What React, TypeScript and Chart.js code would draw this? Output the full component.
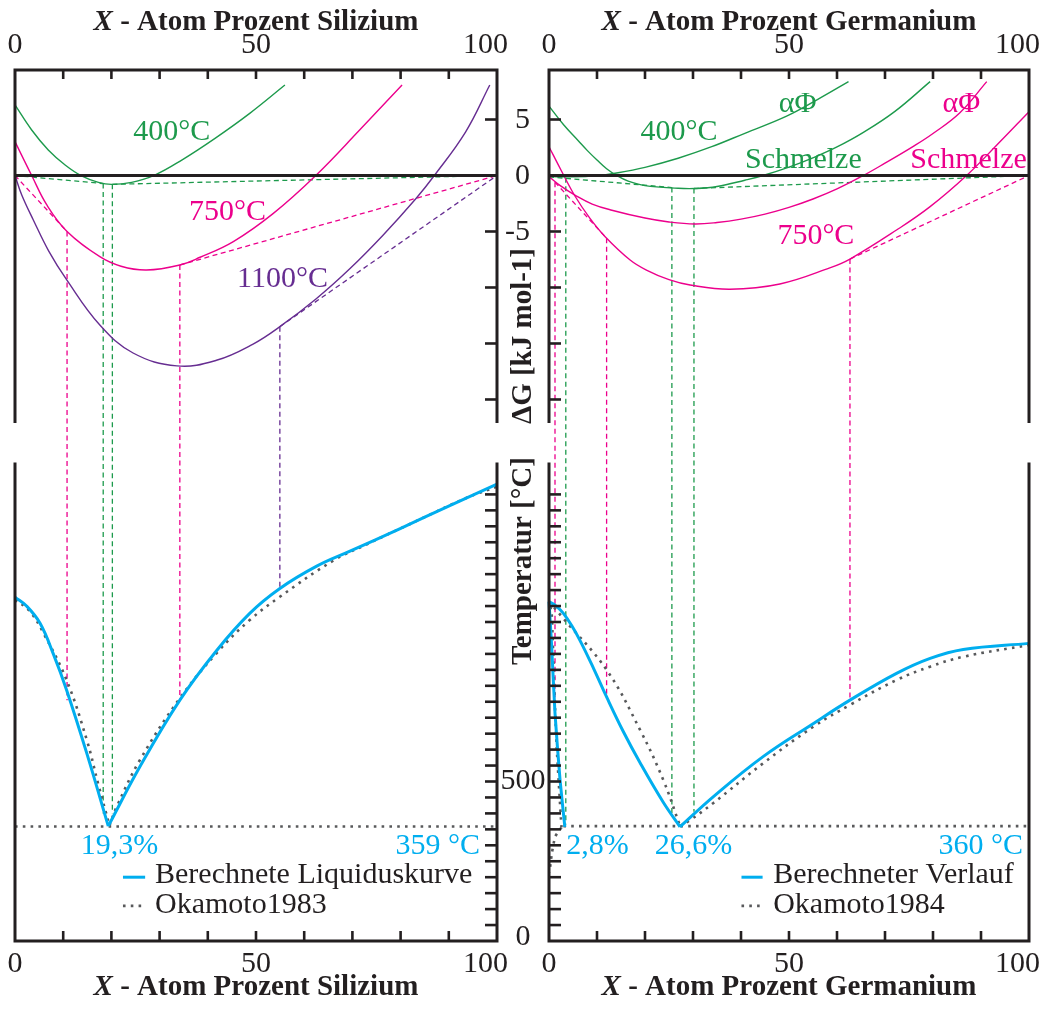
import React, { useEffect, useRef } from "react";
import { Chart, registerables } from "chart.js";

Chart.register(...registerables);

type Pt = [number, number];
type Tie = [number, number, number]; // [x %, ΔG kJ/mol, T °C]

// ---------------- axes ----------------
const X_TICKS = [10, 20, 30, 40, 50, 60, 70, 80, 90];
const X_TICK_LABELS: [number, string][] = [[0, "0"], [50, "50"], [100, "100"]];
const G_RANGE: Pt = [-22.1, 9.42];
const G_TICKS = [5, -5, -10, -15, -20];
const G_TICK_LABELS: [number, string][] = [[5, "5"], [0, "0"], [-5, "-5"]];
const T_RANGE: Pt = [0, 1500];
const T_TICKS = [50, 100, 150, 200, 250, 300, 350, 400, 450, 500, 550, 600, 650, 700, 750, 800, 850, 900, 950, 1000, 1050, 1100, 1150, 1200, 1250, 1300, 1350, 1400];
const T_TICK_LABELS: [number, string][] = [[500, "500"], [0, "0"]];

const X_TITLE_SI = " - Atom Prozent Silizium";
const X_TITLE_GE = " - Atom Prozent Germanium";
const G_TITLE = "ΔG [kJ mol-1]";
const T_TITLE = "Temperatur [°C]";

// ---------------- Au–Si : free energy curves ----------------
const SI_G_400: Pt[] = [[0, 6.3], [3.46, 4.06], [6.9, 2.28], [10.4, 0.94], [13.8, -0.03], [17.3, -0.61], [20.0, -0.79], [24.2, -0.61], [29.0, 0.04], [34.6, 1.38], [41.5, 3.32], [48.7, 5.55], [56, 8.08]];
const SI_G_750: Pt[] = [[0, 3.02], [3.46, 0], [6.6, -2.63], [10.8, -5.0], [17.6, -7.25], [22, -8.1], [27.3, -8.44], [34.2, -7.99], [38.4, -7.3], [45.3, -5.9], [53.6, -3.38], [62.4, 0], [71.5, 4.06], [80.3, 8.08]];
const SI_G_1100: Pt[] = [[0, 0], [1.4, -1.74], [3.8, -3.97], [7, -6.75], [10.7, -9.3], [17.6, -13.35], [24.5, -15.85], [33.6, -17.0], [41.8, -16.5], [49.4, -15.05], [54.95, -13.5], [62.5, -11.0], [69.4, -8.35], [76.3, -5.35], [83.2, -2.05], [87, 0], [93.5, 3.9], [98.5, 8.08]];
const SI_TAN_400_A: Pt[] = [[0, 0], [18.3, -0.72]];
const SI_TAN_400_B: Pt[] = [[20.2, -0.79], [100, 0]];
const SI_TAN_750_A: Pt[] = [[0, 0], [10.8, -5.0]];
const SI_TAN_750_B: Pt[] = [[34.2, -7.99], [100, 0]];
const SI_TAN_1100: Pt[] = [[54.95, -13.5], [100, 0]];
const SI_TIE_400: Tie[] = [[18.3, -0.72, 400], [20.2, -0.79, 400]];
const SI_TIE_750: Tie[] = [[10.8, -5.0, 755], [34.2, -7.99, 755]];
const SI_TIE_1100: Tie[] = [[54.95, -13.5, 1105]];

// ---------------- Au–Si : phase diagram ----------------
const SI_LIQ_A: Pt[] = [[0, 1078], [2.4, 1050], [5.2, 996], [7.95, 900], [10.7, 787], [14.9, 588], [19.35, 360]];
const SI_LIQ_B: Pt[] = [[19.35, 360], [25.9, 546], [34.2, 755], [41.8, 910], [48.7, 1027], [54.95, 1105], [62.6, 1175], [69.5, 1222], [79.8, 1292], [90.2, 1365], [100, 1432]];
const SI_OKA_A: Pt[] = [[0, 1070], [3, 1035], [5.9, 965], [10.7, 818], [14.9, 630], [17.3, 490], [19.6, 362]];
const SI_OKA_B: Pt[] = [[19.6, 362], [21.1, 421], [25.9, 567], [34.2, 761], [41.8, 902], [48.7, 1006], [54.95, 1079], [66, 1192], [72.9, 1243], [83.2, 1316], [93.5, 1388], [100, 1424]];
const SI_EUT: Pt[] = [[0, 359], [100, 359]];

// ---------------- Au–Ge : free energy curves ----------------
const GE_G_400_ALPHA: Pt[] = [[0, -0.1], [5, -0.12], [9.6, -0.03], [14.4, 0.25], [20, 0.73], [26.9, 1.54], [33.9, 2.57], [40.8, 3.77], [49.5, 5.3], [56, 6.8], [62.4, 8.38]];
const GE_G_400_LIQ: Pt[] = [[0, 6.2], [3, 4.55], [6.1, 3.1], [8, 2.22], [10, 1.38], [12, 0.6], [14.1, 0], [16.5, -0.5], [20, -0.9], [26.9, -1.14], [30.4, -1.16], [35, -0.98], [40.8, -0.42], [44.6, 0], [50, 0.75], [55.1, 1.6], [60, 2.55], [65.5, 3.85], [72, 5.7], [79.4, 8.38]];
const GE_G_750_ALPHA: Pt[] = [[0, -0.1], [2.5, -0.95], [5.4, -1.75], [9, -2.55], [13.1, -3.1], [20, -3.8], [25, -4.15], [30.4, -4.33], [35, -4.2], [40, -3.9], [45, -3.45], [50, -2.85], [55, -2.1], [60, -1.2], [65.5, 0], [70, 1.1], [75.9, 2.6], [80, 3.75], [85.6, 5.6], [91.2, 8.38]];
const GE_G_750_LIQ: Pt[] = [[0, 2.57], [2.6, 0.4], [5.4, -1.83], [8.5, -3.8], [11.7, -5.46], [16.9, -7.54], [20.3, -8.44], [25, -9.3], [29.4, -9.78], [37.7, -10.16], [48.1, -9.69], [58.5, -8.25], [62.7, -7.46], [72.4, -4.87], [79.4, -2.78], [87, 0], [93.3, 2.72], [99.9, 5.65]];
const GE_TAN_400_A: Pt[] = [[0, -0.12], [25.6, -1.08]];
const GE_TAN_400_B: Pt[] = [[30.2, -1.16], [100, 0]];
const GE_TAN_750_A: Pt[] = [[1.25, -0.6], [12, -5.6]];
const GE_TAN_750_B: Pt[] = [[62.7, -7.46], [100, 0]];
const GE_TIE_400: Tie[] = [[3.5, -0.2, 365], [25.6, -1.08, 400], [30.2, -1.16, 405]];
const GE_TIE_750: Tie[] = [[1.25, -0.6, 750], [12, -5.6, 760], [62.7, -7.46, 755]];

// ---------------- Au–Ge : phase diagram ----------------
const GE_SOL: Pt[] = [[3.3, 358], [2.3, 505], [1.25, 714], [0.56, 922], [0, 1064]];
const GE_LIQ_A: Pt[] = [[0, 1064], [1.5, 1050], [3, 1027], [4.75, 988], [6.5, 941], [9.3, 854], [12, 765], [15.5, 656], [19, 558], [23.8, 435], [27.3, 358]];
const GE_LIQ_B: Pt[] = [[27.3, 358], [34.2, 452], [44.6, 578], [55.1, 682], [62.7, 755], [72.4, 839], [79.4, 886], [86.3, 914], [100, 933]];
const GE_OKA_SOLVUS: Pt[] = [[2.6, 356], [1.3, 327], [0.6, 275], [0.1, 215]];
const GE_OKA_SOLIDUS: Pt[] = [[2.6, 356], [1.6, 609], [1.04, 818], [0.56, 1027], [0, 1064]];
const GE_OKA_A: Pt[] = [[0, 1064], [3, 1011], [12, 850], [19, 661], [23.8, 505], [27.3, 360]];
const GE_OKA_B: Pt[] = [[27.3, 360], [29.4, 379], [34.2, 432], [44.6, 557], [55.1, 672], [62.7, 740], [72.4, 818], [79.4, 860], [86.3, 891], [100, 928]];
const GE_EUT: Pt[] = [[3, 360], [100, 360]];

// ---------------- text ----------------
const SI_LEGEND = ["Berechnete Liquiduskurve", "Okamoto1983"];
const GE_LEGEND = ["Berechneter Verlauf", "Okamoto1984"];

// ---------------- styling / layout ----------------
const C = {
  green: "#1d9a4c",
  pink: "#ec008c",
  purple: "#662d91",
  cyan: "#00aeef",
  gray: "#58595b",
  black: "#231f20",
};
const FONT = '"Liberation Serif", "Times New Roman", serif';
const PLACE: Record<string, Pt> = { xL: [15, 497], xR: [549, 1029], yG: [70, 423], yT: [462.5, 941] };

const toXY = (d: Pt[]) => d.map(([x, y]) => ({ x, y }));
const ds = (d: Pt[], xAxisID: string, yAxisID: string, color: string, width: number, dash: number[] = [], tension = 0.4) => ({
  data: toXY(d),
  xAxisID,
  yAxisID,
  borderColor: color,
  borderWidth: width,
  borderDash: dash,
  borderCapStyle: "butt",
  pointRadius: 0,
  tension,
  fill: false,
  clip: false,
});
const DASH = [5, 3.5];
const DOTS = [2.6, 5.2];

type Ann = { t: string; xs: string; ys: string; x: number; y: number; align: CanvasTextAlign; color: string };
const ANNOTATIONS: Ann[] = [
  { t: "400°C", xs: "xL", ys: "yG", x: 32.5, y: 3.17, align: "center", color: C.green },
  { t: "750°C", xs: "xL", ys: "yG", x: 44.1, y: -3.97, align: "center", color: C.pink },
  { t: "1100°C", xs: "xL", ys: "yG", x: 55.5, y: -9.96, align: "center", color: C.purple },
  { t: "19,3%", xs: "xL", ys: "yT", x: 21.7, y: 272, align: "center", color: C.cyan },
  { t: "359 °C", xs: "xL", ys: "yT", x: 96.5, y: 272, align: "right", color: C.cyan },
  { t: "400°C", xs: "xR", ys: "yG", x: 27.1, y: 3.17, align: "center", color: C.green },
  { t: "αΦ", xs: "xR", ys: "yG", x: 51.8, y: 5.7, align: "center", color: C.green },
  { t: "Schmelze", xs: "xR", ys: "yG", x: 53.0, y: 0.64, align: "center", color: C.green },
  { t: "αΦ", xs: "xR", ys: "yG", x: 85.9, y: 5.7, align: "center", color: C.pink },
  { t: "Schmelze", xs: "xR", ys: "yG", x: 87.4, y: 0.64, align: "center", color: C.pink },
  { t: "750°C", xs: "xR", ys: "yG", x: 55.6, y: -6.12, align: "center", color: C.pink },
  { t: "2,8%", xs: "xR", ys: "yT", x: 10.1, y: 272, align: "center", color: C.cyan },
  { t: "26,6%", xs: "xR", ys: "yT", x: 30.1, y: 272, align: "center", color: C.cyan },
  { t: "360 °C", xs: "xR", ys: "yT", x: 98.75, y: 272, align: "right", color: C.cyan },
];
const LEGENDS = [
  { xs: "xL", labels: SI_LEGEND, sample: [22.4, 27.0] as Pt, textX: 29.05 },
  { xs: "xR", labels: GE_LEGEND, sample: [40.1, 44.5] as Pt, textX: 46.7 },
];
const LEGEND_ROWS = [{ y: 200, textY: 183 }, { y: 110, textY: 87 }];

const placeScales = {
  id: "placeScales",
  afterLayout(chart: any) {
    for (const id of Object.keys(PLACE)) {
      const sc = chart.scales[id];
      if (!sc) continue;
      const [a, b] = PLACE[id];
      if (id[0] === "x") {
        sc.left = a; sc.right = b; sc.width = b - a;
        sc.top = 0; sc.bottom = chart.height; sc.height = chart.height;
      } else {
        sc.top = a; sc.bottom = b; sc.height = b - a;
        sc.left = 0; sc.right = chart.width; sc.width = chart.width;
      }
      sc.configure();
    }
  },
};

function drawTies(ctx: CanvasRenderingContext2D, xs: any, yG: any, yT: any, ties: Tie[], color: string) {
  ctx.save();
  ctx.strokeStyle = color;
  ctx.lineWidth = 1.3;
  ctx.setLineDash(DASH);
  for (const [v, g, t] of ties) {
    const x = xs.getPixelForValue(v);
    ctx.beginPath();
    ctx.moveTo(x, yG.getPixelForValue(g));
    ctx.lineTo(x, yT.getPixelForValue(t));
    ctx.stroke();
  }
  ctx.restore();
}

function drawTitle(ctx: CanvasRenderingContext2D, cx: number, y: number, rest: string) {
  ctx.save();
  ctx.fillStyle = C.black;
  ctx.textBaseline = "alphabetic";
  ctx.textAlign = "left";
  const fX = `italic bold 29px ${FONT}`;
  const fR = `bold 29px ${FONT}`;
  ctx.font = fX;
  const wX = ctx.measureText("X").width;
  ctx.font = fR;
  const wR = ctx.measureText(rest).width;
  const x0 = cx - (wX + wR) / 2;
  ctx.font = fX;
  ctx.fillText("X", x0, y);
  ctx.font = fR;
  ctx.fillText(rest, x0 + wX, y);
  ctx.restore();
}

function drawPanel(ctx: CanvasRenderingContext2D, xs: any, yG: any, yT: any, side: "L" | "R", title: string) {
  const x0 = xs.getPixelForValue(0);
  const x1 = xs.getPixelForValue(100);
  const gTop = yG.getPixelForValue(G_RANGE[1]);
  const gBot = yG.getPixelForValue(G_RANGE[0]);
  const tTop = yT.getPixelForValue(T_RANGE[1]);
  const tBot = yT.getPixelForValue(T_RANGE[0]);
  ctx.save();
  ctx.strokeStyle = C.black;
  ctx.lineWidth = 3;
  ctx.lineJoin = "miter";
  ctx.lineCap = "butt";
  ctx.setLineDash([]);
  ctx.beginPath();
  ctx.moveTo(x0, gBot); ctx.lineTo(x0, gTop); ctx.lineTo(x1, gTop); ctx.lineTo(x1, gBot);
  ctx.stroke();
  ctx.beginPath();
  ctx.moveTo(x0, tTop); ctx.lineTo(x0, tBot); ctx.lineTo(x1, tBot); ctx.lineTo(x1, tTop);
  ctx.stroke();
  const z = yG.getPixelForValue(0);
  ctx.beginPath(); ctx.moveTo(x0, z); ctx.lineTo(x1, z); ctx.stroke();
  ctx.lineWidth = 2.6;
  for (const v of X_TICKS) {
    const x = xs.getPixelForValue(v);
    ctx.beginPath(); ctx.moveTo(x, gTop); ctx.lineTo(x, gTop + 9); ctx.stroke();
    ctx.beginPath(); ctx.moveTo(x, tBot); ctx.lineTo(x, tBot - 10); ctx.stroke();
  }
  const ix = side === "L" ? x1 : x0;
  const dir = side === "L" ? -1 : 1;
  for (const g of G_TICKS) {
    const y = yG.getPixelForValue(g);
    ctx.beginPath(); ctx.moveTo(ix, y); ctx.lineTo(ix + dir * 12, y); ctx.stroke();
  }
  for (const t of T_TICKS) {
    const y = yT.getPixelForValue(t);
    ctx.beginPath(); ctx.moveTo(ix, y); ctx.lineTo(ix + dir * 12, y); ctx.stroke();
  }
  ctx.fillStyle = C.black;
  ctx.font = `30px ${FONT}`;
  ctx.textBaseline = "alphabetic";
  for (const [v, s] of X_TICK_LABELS) {
    const x = xs.getPixelForValue(v);
    if (v === 100) { ctx.textAlign = "right"; ctx.fillText(s, x + 11, gTop - 17); ctx.fillText(s, x + 11, tBot + 31); }
    else { ctx.textAlign = "center"; ctx.fillText(s, x, gTop - 17); ctx.fillText(s, x, tBot + 31); }
  }
  drawTitle(ctx, (x0 + x1) / 2, gTop - 40, title);
  drawTitle(ctx, (x0 + x1) / 2, tBot + 54, title);
  ctx.restore();
}

const decor = {
  id: "decor",
  beforeDatasetsDraw(chart: any) {
    const { ctx, scales: s } = chart;
    drawTies(ctx, s.xL, s.yG, s.yT, SI_TIE_750, C.pink);
    drawTies(ctx, s.xL, s.yG, s.yT, SI_TIE_400, C.green);
    drawTies(ctx, s.xL, s.yG, s.yT, SI_TIE_1100, C.purple);
    drawTies(ctx, s.xR, s.yG, s.yT, GE_TIE_750, C.pink);
    drawTies(ctx, s.xR, s.yG, s.yT, GE_TIE_400, C.green);
  },
  afterDatasetsDraw(chart: any) {
    const { ctx, scales: s } = chart;
    drawPanel(ctx, s.xL, s.yG, s.yT, "L", X_TITLE_SI);
    drawPanel(ctx, s.xR, s.yG, s.yT, "R", X_TITLE_GE);
    ctx.save();
    const mid = (s.xL.getPixelForValue(100) + s.xR.getPixelForValue(0)) / 2;
    ctx.fillStyle = C.black;
    ctx.font = `30px ${FONT}`;
    ctx.textBaseline = "middle";
    ctx.textAlign = "right";
    for (const [g, t] of G_TICK_LABELS) ctx.fillText(t, mid + 7, s.yG.getPixelForValue(g) + 1);
    ctx.textAlign = "center";
    for (const [v, t] of T_TICK_LABELS) ctx.fillText(t, mid, Math.min(s.yT.getPixelForValue(v), s.yT.bottom - 4));
    ctx.font = `bold 29px ${FONT}`;
    const drawV = (text: string, y: number) => {
      ctx.save();
      ctx.translate(mid + 1, y);
      ctx.rotate(-Math.PI / 2);
      ctx.textAlign = "center";
      ctx.textBaseline = "middle";
      ctx.fillText(text, 0, 0);
      ctx.restore();
    };
    drawV(G_TITLE, 336);
    drawV(T_TITLE, 561);
    ctx.font = `30px ${FONT}`;
    ctx.textBaseline = "alphabetic";
    for (const a of ANNOTATIONS) {
      ctx.fillStyle = a.color;
      ctx.textAlign = a.align;
      ctx.fillText(a.t, s[a.xs].getPixelForValue(a.x), s[a.ys].getPixelForValue(a.y));
    }
    for (const L of LEGENDS) {
      const xs = s[L.xs];
      const a = xs.getPixelForValue(L.sample[0]);
      const b = xs.getPixelForValue(L.sample[1]);
      ctx.lineCap = "butt";
      ctx.strokeStyle = C.cyan; ctx.lineWidth = 3; ctx.setLineDash([]);
      let y = s.yT.getPixelForValue(LEGEND_ROWS[0].y);
      ctx.beginPath(); ctx.moveTo(a, y); ctx.lineTo(b, y); ctx.stroke();
      ctx.strokeStyle = C.gray; ctx.lineWidth = 2.6; ctx.setLineDash(DOTS);
      y = s.yT.getPixelForValue(LEGEND_ROWS[1].y);
      ctx.beginPath(); ctx.moveTo(a, y); ctx.lineTo(b, y); ctx.stroke();
      ctx.setLineDash([]);
      ctx.fillStyle = C.black; ctx.textAlign = "left";
      L.labels.forEach((lab, i) => ctx.fillText(lab, xs.getPixelForValue(L.textX), s.yT.getPixelForValue(LEGEND_ROWS[i].textY)));
    }
    ctx.restore();
  },
};

export default function App() {
  const ref = useRef<HTMLCanvasElement | null>(null);
  useEffect(() => {
    if (!ref.current) return;
    const datasets: any[] = [
      ds(SI_G_400, "xL", "yG", C.green, 1.4),
      ds(SI_G_750, "xL", "yG", C.pink, 1.4),
      ds(SI_G_1100, "xL", "yG", C.purple, 1.4),
      ds(SI_TAN_400_A, "xL", "yG", C.green, 1.3, DASH, 0),
      ds(SI_TAN_400_B, "xL", "yG", C.green, 1.3, DASH, 0),
      ds(SI_TAN_750_A, "xL", "yG", C.pink, 1.3, DASH, 0),
      ds(SI_TAN_750_B, "xL", "yG", C.pink, 1.3, DASH, 0),
      ds(SI_TAN_1100, "xL", "yG", C.purple, 1.3, DASH, 0),
      ds(SI_LIQ_A, "xL", "yT", C.cyan, 3, [], 0.4),
      ds(SI_LIQ_B, "xL", "yT", C.cyan, 3, [], 0.4),
      ds(SI_OKA_A, "xL", "yT", C.gray, 2.6, DOTS, 0.4),
      ds(SI_OKA_B, "xL", "yT", C.gray, 2.6, DOTS, 0.4),
      ds(SI_EUT, "xL", "yT", C.gray, 2.6, DOTS, 0),
      ds(GE_G_400_ALPHA, "xR", "yG", C.green, 1.4),
      ds(GE_G_400_LIQ, "xR", "yG", C.green, 1.4),
      ds(GE_G_750_ALPHA, "xR", "yG", C.pink, 1.4),
      ds(GE_G_750_LIQ, "xR", "yG", C.pink, 1.4),
      ds(GE_TAN_400_A, "xR", "yG", C.green, 1.3, DASH, 0),
      ds(GE_TAN_400_B, "xR", "yG", C.green, 1.3, DASH, 0),
      ds(GE_TAN_750_A, "xR", "yG", C.pink, 1.3, DASH, 0),
      ds(GE_TAN_750_B, "xR", "yG", C.pink, 1.3, DASH, 0),
      ds(GE_SOL, "xR", "yT", C.cyan, 3, [], 0.2),
      ds(GE_LIQ_A, "xR", "yT", C.cyan, 3, [], 0.4),
      ds(GE_LIQ_B, "xR", "yT", C.cyan, 3, [], 0.4),
      ds(GE_OKA_SOLVUS, "xR", "yT", C.gray, 2.6, DOTS, 0.2),
      ds(GE_OKA_SOLIDUS, "xR", "yT", C.gray, 2.6, DOTS, 0.2),
      ds(GE_OKA_A, "xR", "yT", C.gray, 2.6, DOTS, 0.4),
      ds(GE_OKA_B, "xR", "yT", C.gray, 2.6, DOTS, 0.4),
      ds(GE_EUT, "xR", "yT", C.gray, 2.6, DOTS, 0),
    ];
    const lin = (axis: string, min: number, max: number) => ({ type: "linear", axis, min, max, bounds: "data", display: false });
    const chart = new Chart(ref.current, {
      type: "line",
      data: { datasets },
      options: {
        responsive: false,
        devicePixelRatio: 1,
        animation: false,
        events: [],
        layout: { padding: 0 },
        plugins: { legend: { display: false }, tooltip: { enabled: false } },
        scales: {
          xL: lin("x", 0, 100),
          xR: lin("x", 0, 100),
          yG: lin("y", G_RANGE[0], G_RANGE[1]),
          yT: lin("y", T_RANGE[0], T_RANGE[1]),
        } as any,
      } as any,
      plugins: [placeScales, decor] as any,
    });
    return () => chart.destroy();
  }, []);
  return (
    <div style={{ position: "fixed", left: 0, top: 0, width: 1041, height: 1030, background: "#fff" }}>
      <canvas ref={ref} width={1041} height={1030} style={{ width: 1041, height: 1030, display: "block" }} />
    </div>
  );
}
